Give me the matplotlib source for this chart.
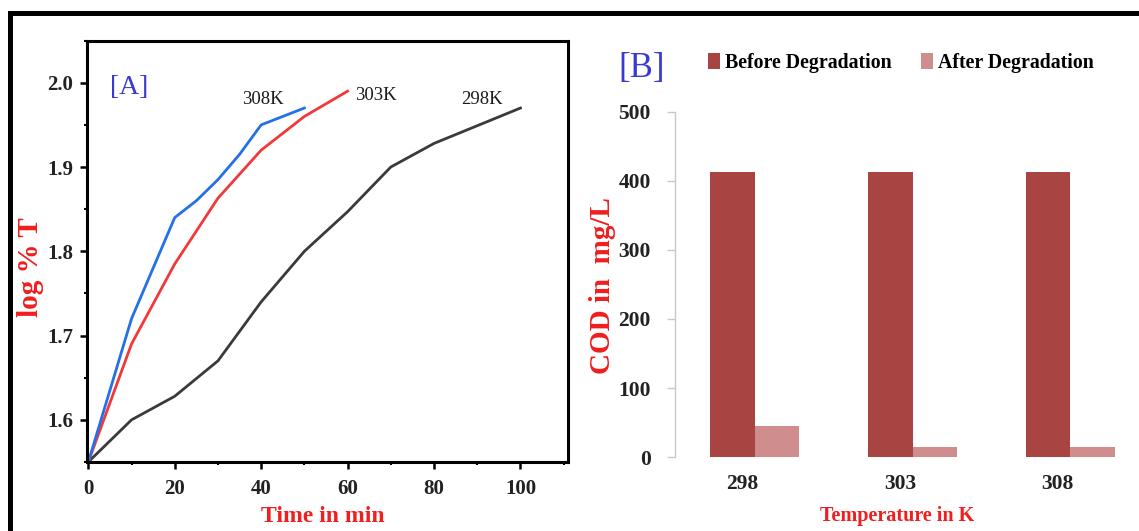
import matplotlib
matplotlib.use("Agg")
import matplotlib.pyplot as plt
from matplotlib.patches import Rectangle, Patch
from matplotlib.ticker import MultipleLocator
import numpy as np

plt.rcParams['font.family'] = ['Liberation Serif', 'DejaVu Serif']

# ---- Panel A data ----
time_308 = [0, 10, 20, 25, 30, 35, 40, 50]
logT_308 = [1.55, 1.72, 1.84, 1.86, 1.885, 1.915, 1.95, 1.97]
time_303 = [0, 10, 20, 30, 40, 50, 60]
logT_303 = [1.55, 1.69, 1.785, 1.863, 1.92, 1.96, 1.99]
time_298 = [0, 10, 20, 30, 40, 50, 60, 70, 80, 90, 100]
logT_298 = [1.55, 1.60, 1.628, 1.67, 1.74, 1.80, 1.847, 1.90, 1.928, 1.949, 1.97]
series_labels = ["308K", "303K", "298K"]
label_xy = [(40.3, 1.980), (66.5, 1.985), (91.0, 1.980)]

# ---- Panel B data ----
temperatures = ["298", "303", "308"]
cod_before = [413, 413, 413]
cod_after = [45, 15, 15]
legend_labels = ["Before Degradation", "After Degradation"]

W, H = 1139, 531
fig = plt.figure(figsize=(W / 100, H / 100), dpi=100)

def fx(px):
    return px / W

def fy(py):
    return 1 - py / H

# outer frame
fig.patches.append(Rectangle((fx(10), fy(560)), 1.2, (560 - 13) / H,
                             transform=fig.transFigure, fill=False,
                             edgecolor='black', linewidth=3.6, zorder=0))

# ---------- Panel A ----------
axA = fig.add_axes([fx(87), fy(462), fx(568) - fx(87), fy(40.6) - fy(462)])
axA.plot(time_298, logT_298, color='#3a3a3a', lw=2.0)
axA.plot(time_303, logT_303, color='#f2383a', lw=2.0)
axA.plot(time_308, logT_308, color='#2470e6', lw=2.0)
axA.set_xlim(-0.3, 111)
axA.set_ylim(1.55, 2.05)
axA.xaxis.set_major_locator(MultipleLocator(20))
axA.xaxis.set_minor_locator(MultipleLocator(10))
axA.yaxis.set_major_locator(MultipleLocator(0.1))
axA.yaxis.set_minor_locator(MultipleLocator(0.05))
axA.set_yticks([1.6, 1.7, 1.8, 1.9, 2.0])
axA.set_yticklabels(["1.6", "1.7", "1.8", "1.9", "2.0"])
for s in axA.spines.values():
    s.set_linewidth(2.2)
axA.tick_params(which='major', direction='out', length=5, width=1.8,
                labelsize=15, pad=5)
axA.tick_params(which='minor', direction='out', length=2.5, width=1.5)
axA.tick_params(axis='x', which='major', pad=7)
for lab in axA.get_xticklabels() + axA.get_yticklabels():
    lab.set_fontweight('bold')
    lab.set_color('#222222')
for (x, y), t in zip(label_xy, series_labels):
    axA.text(x, y, t, ha='center', va='center', fontsize=13.5, color='#1a1a1a')
axA.text(9.5, 1.994, "[A]", ha='center', va='center', fontsize=20, color='#3a3ad0')

fig.text(fx(30.5), fy(267.5), "log % T", rotation=90, ha='center', va='center',
         fontsize=21, fontweight='bold', color='#f01e1e')
fig.text(fx(323), fy(517), "Time in min", ha='center', va='center',
         fontsize=17, fontweight='bold', color='#f01e1e')

# ---------- Panel B ----------
c0 = 754.7
step = 157.8
x_left = (674.5 - c0) / step
x_right = (1132 - c0) / step
axB = fig.add_axes([fx(674.5), fy(457.2), fx(1132) - fx(674.5), fy(111.7) - fy(457.2)])
pos = np.arange(len(temperatures))
bw = 0.283
axB.bar(pos - bw / 2, cod_before, width=bw, color='#a84543', label=legend_labels[0])
axB.bar(pos + bw / 2, cod_after, width=bw, color='#d08d8d', label=legend_labels[1])
axB.set_xlim(x_left, x_right)
axB.set_ylim(0, 500)
axB.set_yticks([0, 100, 200, 300, 400, 500])
axB.set_xticks(pos - 0.08)
axB.set_xticklabels(temperatures)
for side in ['top', 'right', 'bottom']:
    axB.spines[side].set_visible(False)
axB.spines['left'].set_color('#c8c8c8')
axB.spines['left'].set_linewidth(1.0)
axB.tick_params(axis='y', direction='out', length=6, width=1.0, color='#c8c8c8',
                labelsize=15.5, pad=11)
axB.tick_params(axis='x', length=0, labelsize=15.5, pad=12)
for lab in axB.get_xticklabels() + axB.get_yticklabels():
    lab.set_fontweight('bold')
    lab.set_color('#222222')

handles = [Patch(facecolor='#a84543'), Patch(facecolor='#d08d8d')]
fig.legend(handles, legend_labels, loc='center left',
           bbox_to_anchor=(fx(708), fy(62.7)), ncol=2, frameon=False,
           prop={'family': 'Liberation Serif', 'weight': 'bold', 'size': 14.3},
           handlelength=0.6, handleheight=0.9, handletextpad=0.25,
           columnspacing=1.5, borderpad=0, borderaxespad=0)

fig.text(fx(642), fy(69), "[B]", ha='center', va='center', fontsize=25,
         color='#3a3ad0')
fig.text(fx(603), fy(286), "COD in  mg/L", rotation=90, ha='center', va='center',
         fontsize=21, fontweight='bold', color='#f01e1e')
fig.text(fx(897), fy(516), "Temperature in K", ha='center', va='center',
         fontsize=14.5, fontweight='bold', color='#f01e1e')

fig.savefig("out.png", dpi=100)
